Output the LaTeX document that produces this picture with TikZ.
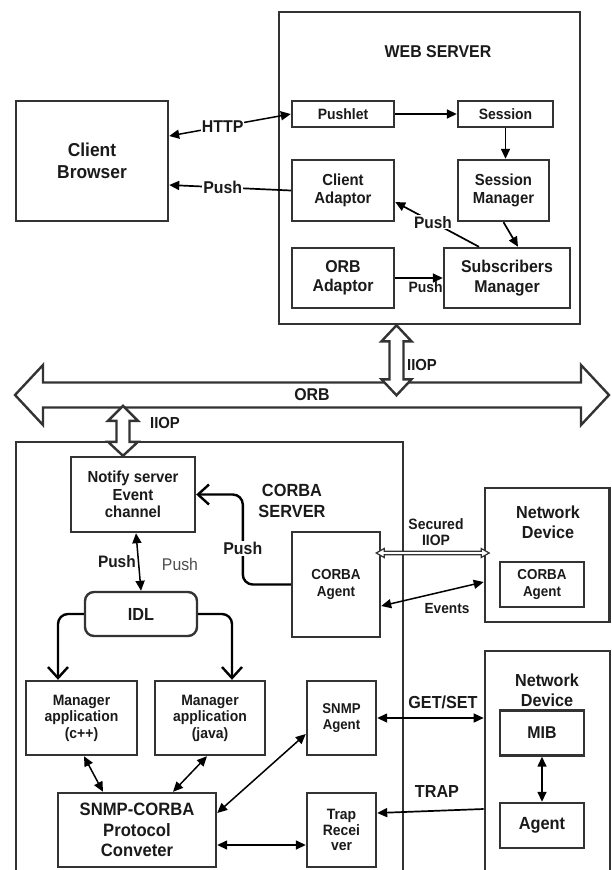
\documentclass[tikz,border=0pt]{standalone}
\usepackage{fontspec}
\setmainfont{Liberation Sans}[FakeStretch=0.93]
\usetikzlibrary{arrows.meta, positioning, calc}
\definecolor{LineGray}{HTML}{333333}
\definecolor{TextBlack}{HTML}{1A1A1A}
\definecolor{SoftGray}{HTML}{4D4D4D}
\tikzset{
    % Box styles
    box/.style={
        rectangle,
        draw=LineGray,
        fill=white,
        line width=2.4pt,
        inner sep=0pt,
        align=center,
        text=TextBlack
    },
    frame/.style={
        rectangle,
        draw=LineGray,
        line width=2.6pt,
        inner sep=0pt
    },
    idlbox/.style={
        box,
        rounded corners=9pt
    },
    % Text styles
    fs/.style 2 args={font=\fontsize{#1}{#2}\selectfont\bfseries},
    lbl/.style={
        text=TextBlack,
        inner sep=1pt,
        align=center
    },
    % Arrow styles
    arrow/.style={
        -{Triangle[length=10pt,width=9pt]},
        line width=1.7pt,
        draw=black
    },
    dblarrow/.style={
        {Triangle[length=10pt,width=9pt]}-{Triangle[length=10pt,width=9pt]},
        line width=1.5pt,
        draw=black
    },
    openarrow/.style={
        -{Straight Barb[length=11pt,width=20pt]},
        line width=2.4pt,
        rounded corners=10pt,
        draw=black
    },
    blockarrow/.style={
        draw=LineGray,
        line width=2.4pt,
        fill=white,
        line join=miter
    },
    thinblock/.style={
        draw=LineGray,
        line width=1.2pt,
        fill=white
    }
}

\begin{document}
\begin{tikzpicture}[x=1pt, y=-1pt]
    \useasboundingbox (0,0) rectangle (611,870);
    \clip (0,0) rectangle (611,870);

    % Web server
    \node[frame, minimum width=301pt, minimum height=312pt] (web) at (429.5,168) {};
    \node[lbl, fs={17.1}{19}] (webtitle) at (438,52) {WEB SERVER};

    \node[box, fs={18.7}{21.5}, minimum width=152pt, minimum height=120pt] (browser) at (92,161) {Client\\Browser};

    \node[box, fs={15}{17}, minimum width=102pt, minimum height=26pt] (pushlet) at (343,114) {Pushlet};
    \node[box, fs={15}{17}, minimum width=95pt, minimum height=26pt] (session) at (505.5,114) {Session};
    \node[box, fs={16}{18}, minimum width=102pt, minimum height=61pt] (cadapt) at (343,190.5) {Client\\Adaptor};
    \node[box, fs={16}{18}, minimum width=91pt, minimum height=61pt] (smgr) at (503.5,190.5) {Session\\Manager};
    \node[box, fs={17.1}{19.5}, minimum width=102pt, minimum height=60pt] (oadapt) at (343,278) {ORB\\Adaptor};
    \node[box, fs={17.1}{19.5}, minimum width=126pt, minimum height=60pt] (subs) at (507,278) {Subscribers\\Manager};

    \draw[dblarrow] ([yshift=25pt]browser.east) -- node[lbl, fs={17.1}{19}, fill=white, pos=0.44] (lhttp) {HTTP} (pushlet.west);
    \draw[arrow] (cadapt.west) -- node[lbl, fs={17.1}{19}, fill=white, pos=0.56] (lpusha) {Push} ([yshift=-24pt]browser.east);
    \draw[arrow] (pushlet) -- (session);
    \draw[arrow] (session.south) -- (session.south |- smgr.north);
    \draw[arrow] (smgr.south) -- ([xshift=11pt]subs.north);
    \draw[arrow] ([xshift=-28pt]subs.north) -- node[lbl, fs={16.6}{18}, fill=white, pos=0.55] (lpushb) {Push} ([yshift=-11.5pt]cadapt.east);
    \draw[arrow] (oadapt) -- node[lbl, fs={15}{16}, pos=0.64, below=2pt] (lpushc) {Push} (subs);

    % ORB bus
    \draw[blockarrow] (15,395) -- (43,365) -- (43,382.5) -- (581,382.5) -- (581,365) -- (609,395)
        -- (581,425) -- (581,407.5) -- (43,407.5) -- (43,425) -- cycle;
    \node[lbl, fs={17.1}{19}] (orb) at (312,395) {ORB};

    \draw[blockarrow] ([xshift=-33pt]web.south) -- ++(15,16) -- ++(-8,0) -- ++(0,38) -- ++(8,0) -- ++(-15,16)
        -- ++(-15,-16) -- ++(8,0) -- ++(0,-38) -- ++(-8,0) -- cycle;
    \node[lbl, fs={16}{18}] (iiopa) at (422,365) {IIOP};

    % CORBA server
    \node[frame, minimum width=387pt, minimum height=448pt] (corba) at (209.5,666) {};
    \node[lbl, fs={17.6}{21}] (corbatitle) at (292,501) {CORBA\\SERVER};

    \node[box, fs={16}{17.5}, minimum width=124pt, minimum height=75pt] (notify) at (133,494.5) {Notify server\\Event\\channel};

    \draw[blockarrow] ([xshift=-10pt]notify.north) -- ++(15,-14) -- ++(-8.5,0) -- ++(0,-21) -- ++(8.5,0) -- ++(-15,-15)
        -- ++(-15,15) -- ++(8.5,0) -- ++(0,21) -- ++(-8.5,0) -- cycle;
    \node[lbl, fs={16}{18}] (iiopb) at (165,423) {IIOP};

    \node[box, fs={14.5}{17}, minimum width=88pt, minimum height=105pt] (cagent) at (336,584.5) {CORBA\\Agent};
    \node[idlbox, fs={17.5}{19}, minimum width=112pt, minimum height=44pt] (idl) at (141,614) {IDL};

    \node[box, fs={15}{16.5}, minimum width=111pt, minimum height=74pt] (mgrc) at (81.5,718) {Manager\\application\\(c++)};
    \node[box, fs={15}{16.5}, minimum width=110pt, minimum height=74pt] (mgrj) at (210,718) {Manager\\application\\(java)};
    \node[box, fs={14.2}{16.5}, minimum width=69pt, minimum height=74pt] (sagent) at (341.5,718) {SNMP\\Agent};
    \node[box, fs={17.9}{20.5}, minimum width=158pt, minimum height=74pt] (snmpc) at (137,830) {SNMP-CORBA\\Protocol\\Conveter};
    \node[box, fs={15}{15.5}, minimum width=69pt, minimum height=74pt] (trap) at (341.5,830) {Trap\\Recei\\ver};

    \draw[openarrow] (cagent.west) -- ++(-48,0) |- node[lbl, fs={17.1}{19}, fill=white, pos=0.2] (lpushd) {Push} (notify.east);
    \draw[dblarrow] ([xshift=3pt]notify.south) -- node[lbl, fs={16.6}{18}, left=1pt, pos=0.5] (lpushe) {Push} (idl.north);
    \node[lbl, font=\fontsize{17}{19}\selectfont, text=SoftGray] (lpushf) at (180,564) {Push};

    \draw[openarrow] (idl.west) -| ([xshift=-23.5pt]mgrc.north);
    \draw[openarrow] (idl.east) -| ([xshift=22pt]mgrj.north);

    \draw[dblarrow] ([xshift=2.5pt]mgrc.south) -- ([xshift=-34pt]snmpc.north);
    \draw[dblarrow] ([xshift=-3pt]mgrj.south) -- ([xshift=36pt]snmpc.north);
    \draw[dblarrow] ([yshift=17pt]snmpc.east) -- ([yshift=-16pt]sagent.west);
    \draw[dblarrow] ([yshift=-15pt]snmpc.east) -- ([yshift=-15pt]trap.west);

    % Network devices
    \node[frame, minimum width=124.5pt, minimum height=134pt] (nd1) at (547.25,555) {};
    \node[lbl, fs={17.4}{20}] (nd1title) at (548,522) {Network\\Device};
    \node[box, fs={14.4}{16.5}, minimum width=84pt, minimum height=45pt] (nagent) at (542,584.5) {CORBA\\Agent};

    \draw[thinblock] ([xshift=-5pt,yshift=31.5pt]cagent.east) -- ++(8,-4.5) -- ++(0,2.7) -- ++(97,0) -- ++(0,-2.7) -- ++(8,4.5)
        -- ++(-8,4.5) -- ++(0,-2.7) -- ++(-97,0) -- ++(0,2.7) -- cycle;
    \node[lbl, fs={15}{16}] (lsec) at (436,532) {Secured\\IIOP};
    \draw[dblarrow] ([yshift=-21.5pt]cagent.east) -- ([yshift=-27pt]nd1.west);
    \node[lbl, fs={14.7}{16}] (levents) at (447,609) {Events};

    \node[frame, minimum width=125pt, minimum height=239pt] (nd2) at (547.5,770.5) {};
    \node[lbl, fs={17.4}{20}] (nd2title) at (547,690) {Network\\Device};
    \node[box, fs={17.1}{19}, minimum width=84pt, minimum height=45pt] (mib) at (542,733) {MIB};
    \node[box, fs={17.6}{19}, minimum width=84pt, minimum height=45pt] (agent) at (542,825.5) {Agent};

    \draw[dblarrow] (mib.south) -- (agent.north);
    \draw[dblarrow] (sagent.east) -- (sagent.east -| nd2.west);
    \node[lbl, fs={17.4}{19}] (lgetset) at (443,702) {GET/SET};
    \draw[arrow] ([yshift=-38.5pt]nd2.west) -- ([yshift=17pt]trap.east);
    \node[lbl, fs={17.4}{19}] (ltrap) at (437,792) {TRAP};
\end{tikzpicture}
\end{document}
